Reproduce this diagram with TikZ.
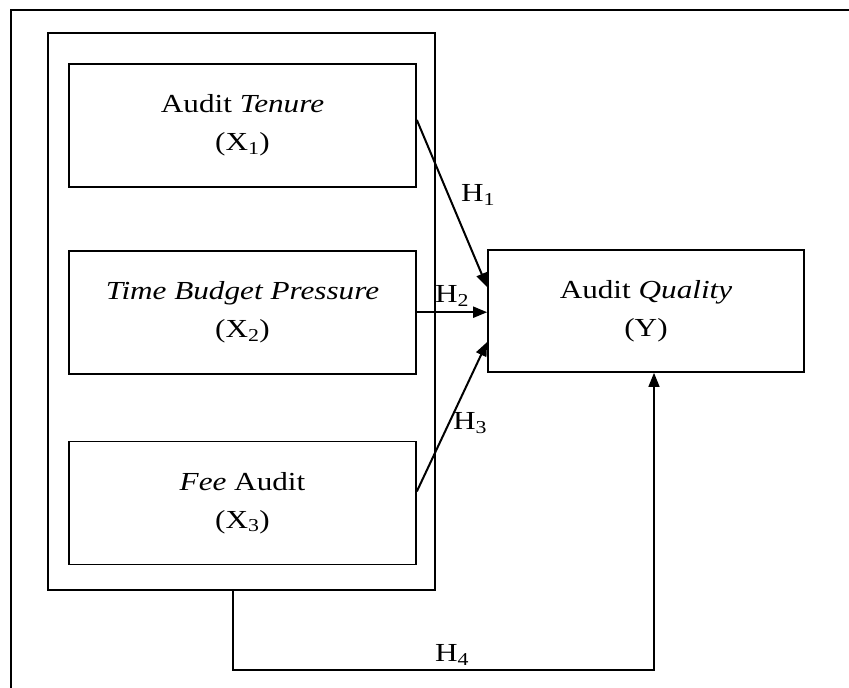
\documentclass[tikz,border=0pt]{standalone}
\usepackage{fontspec}
\setmainfont{Liberation Serif}[FakeStretch=1.2]
\usetikzlibrary{arrows.meta,positioning,calc}
\tikzset{var/.style={draw,rectangle,line width=1.7pt,minimum width=347pt,minimum height=123pt,align=center,inner sep=2pt}}

\begin{document}
\begin{tikzpicture}[x=1pt, y=-1pt, >={Triangle[length=14pt,width=11pt]}, font=\fontsize{26}{38}\selectfont]
\useasboundingbox (0,0) rectangle (849,688);
\draw[line width=2pt] (849,10) -- (11,10) -- (11,688);
\node[draw, line width=2pt, minimum width=387pt, minimum height=557pt] (grp) at (241.5,311.5) {};
\node[var] (X1) at (242.5,125.5) {Audit \textit{Tenure}\\(X\textsubscript{1})};
\node[var, below=62pt of X1] (X2) {\textit{Time Budget Pressure}\\(X\textsubscript{2})};
\node[var, below=66pt of X2] (X3) {\textit{Fee} Audit\\(X\textsubscript{3})};
\node[var, minimum width=316pt, minimum height=122pt] (Y) at (646,311) {Audit \textit{Quality}\\(Y)};
% hypotheses
\draw[->, line width=2pt] ([yshift=5.5pt]X1.east) -- ([yshift=24pt]Y.west);
\draw[->, line width=2pt] (X2.east) -- (X2.east -| Y.west);
\draw[->, line width=2pt] ([yshift=11.5pt]X3.east) -- ([yshift=-31pt]Y.west);
\draw[->, line width=1.3pt] ([xshift=-8.5pt]grp.south) -- ++(0,79) -| ([xshift=8pt]Y.south);
\node (h1) at (478,195) {H\textsubscript{1}};
\node (h2) at (452,296) {H\textsubscript{2}};
\node (h3) at (470,423) {H\textsubscript{3}};
\node (h4) at (452,655) {H\textsubscript{4}};
\end{tikzpicture}
\end{document}
